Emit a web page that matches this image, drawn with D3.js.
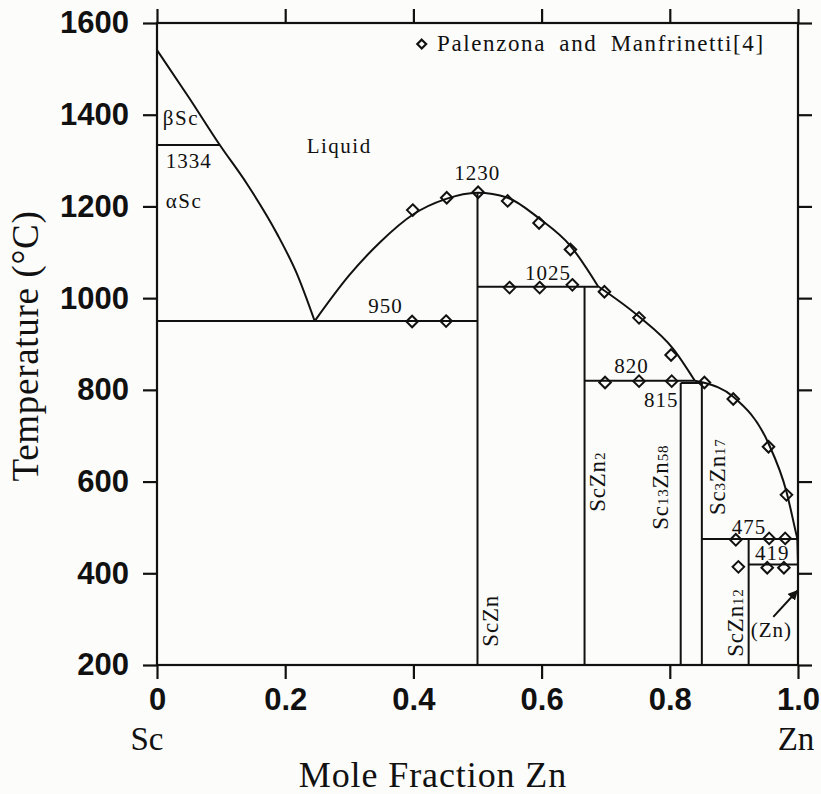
<!DOCTYPE html>
<html>
<head>
<meta charset="utf-8">
<script src="https://cdn.jsdelivr.net/npm/d3@7"></script>
<style>
body{margin:0;background:#fcfcfa;}
svg{display:block;}
.tick text{font-family:"Liberation Sans",Arial,sans-serif;font-weight:bold;font-size:31px;fill:#111;}
.lbl{font-family:"Liberation Serif","Times New Roman",serif;fill:#111;}
</style>
</head>
<body>
<svg width="821" height="794"></svg>
<script>
//Sc-Zn 相图
//坐标刻度
var xTicks=[0,0.2,0.4,0.6,0.8,1.0];
var xTickText=["0","0.2","0.4","0.6","0.8","1.0"];
var yTicks=[200,400,600,800,1000,1200,1400,1600];
//液相线 (x, T)
var liqSc=[[0,1541],[0.05,1437],[0.098,1334],[0.140,1250],[0.187,1141],[0.218,1054],[0.246,950]];
var liqScZn=[[0.246,950],[0.30,1050],[0.348,1122],[0.40,1183],[0.45,1216],[0.5,1230],[0.547,1219],[0.596,1174],[0.645,1114],[0.688,1026]];
var liqScZn2=[[0.688,1026],[0.75,962],[0.805,890],[0.839,820]];
var liqSc3Zn17=[[0.839,820],[0.852,816],[0.899,785],[0.954,683],[0.982,578],[0.997,487],[0.999,475]];
var liqZn=[[0.999,475],[1.0,419]];
//水平线 [x0, x1, T]
var isotherms=[[0,0.098,1334],[0,0.5,950],[0.5,0.688,1025],[0.667,0.839,820],[0.817,0.852,815],[0.85,0.999,475],[0.923,1.0,419]];
//化合物
var compounds=["ScZn","ScZn2","Sc13Zn58","Sc3Zn17","ScZn12"];
var compoundX=[0.5,0.667,0.817,0.85,0.923];
var compoundTop=[1230,1025,815,815,475];
//实验点 Palenzona and Manfrinetti
var expX=[0.399,0.452,0.501,0.547,0.596,0.645,0.698,0.752,0.802,0.550,0.597,0.648,0.398,0.451,0.699,0.752,0.803,0.854,0.899,0.954,0.982,0.903,0.955,0.980,0.907,0.952,0.978];
var expT=[1192,1219,1231,1212,1164,1106,1014,957,876,1023,1023,1029,949,950,816,819,819,816,780,676,571,473,476,476,414,412,412];

var svg=d3.select("svg"),
    margin={top:23,right:23,bottom:129,left:157},
    width=+svg.attr("width")-margin.left-margin.right,
    height=+svg.attr("height")-margin.top-margin.bottom;
var x=d3.scaleLinear().domain([0,1]).range([margin.left,margin.left+width]);
var y=d3.scaleLinear().domain([200,1600]).range([margin.top+height,margin.top]);

//坐标轴
svg.append("g")
    .attr("transform","translate(0,"+y(200)+")")
    .call(d3.axisBottom(x).tickValues(xTicks).tickSize(14).tickPadding(9).tickSizeOuter(0)
        .tickFormat(function(d,i){return xTickText[i];}));
svg.append("g")
    .attr("transform","translate("+x(0)+",0)")
    .call(d3.axisLeft(y).tickValues(yTicks).tickSize(14).tickPadding(14).tickSizeOuter(0)
        .tickFormat(d3.format("d")));
svg.append("g")
    .attr("transform","translate(0,"+y(1600)+")")
    .call(d3.axisTop(x).tickValues(xTicks).tickSize(14).tickSizeOuter(0).tickFormat(""));
svg.append("g")
    .attr("transform","translate("+x(1)+",0)")
    .call(d3.axisRight(y).tickValues(yTicks).tickSize(14).tickSizeOuter(0).tickFormat(""));
svg.selectAll(".domain").remove();
svg.selectAll(".tick line").attr("stroke","#111").attr("stroke-width",2.2);
svg.append("rect")
    .attr("x",x(0)).attr("y",y(1600))
    .attr("width",x(1)-x(0)).attr("height",y(200)-y(1600))
    .attr("fill","none").attr("stroke","#111").attr("stroke-width",2.2);

//相界线
var line=d3.line()
    .x(function(d){return x(d[0]);})
    .y(function(d){return y(d[1]);})
    .curve(d3.curveMonotoneX);
var g=svg.append("g").attr("fill","none").attr("stroke","#111").attr("stroke-width",2);
[liqSc,liqScZn,liqScZn2,liqSc3Zn17].forEach(function(seg){
    g.append("path").datum(seg).attr("d",line);
});
g.append("path").datum(liqZn).attr("d",d3.line().x(function(d){return x(d[0]);}).y(function(d){return y(d[1]);}));
g.selectAll(".iso")
    .data(isotherms)
    .enter().append("line")
    .attr("x1",function(d){return x(d[0]);})
    .attr("x2",function(d){return x(d[1]);})
    .attr("y1",function(d){return y(d[2]);})
    .attr("y2",function(d){return y(d[2]);});
g.selectAll(".cmp")
    .data(compoundX)
    .enter().append("line")
    .attr("x1",function(d){return x(d);})
    .attr("x2",function(d){return x(d);})
    .attr("y1",y(200))
    .attr("y2",function(d,i){return y(compoundTop[i]);});

//实验点
var diamond=d3.symbol().type(d3.symbolDiamond2).size(85);
svg.append("g").selectAll("path")
    .data(expX)
    .enter().append("path")
    .attr("transform",function(d,i){return "translate("+x(d)+","+y(expT[i])+")";})
    .attr("d",diamond)
    .attr("fill","none").attr("stroke","#111").attr("stroke-width",2);

//文字
var txt=function(str,xv,tv,size,anchor,ls){
    return svg.append("text").attr("class","lbl")
        .attr("x",x(xv)).attr("y",y(tv))
        .attr("font-size",size+"px")
        .attr("text-anchor",anchor||"start")
        .attr("letter-spacing",(ls||0)+"px")
        .text(str);
};
txt("βSc",0.009,1378,21,"start",1.5);
txt("1334",0.0136,1283,21,"start",1);
txt("αSc",0.0136,1197,21,"start",1.5);
txt("Liquid",0.2335,1317,21,"start",1.5);
txt("1230",0.4997,1258,21,"middle",1);
txt("1025",0.6098,1040,21,"middle",1);
txt("950",0.3296,967,21,"start",1);
txt("820",0.7134,837,21,"start",1);
txt("815",0.7597,762,21,"start",1);
txt("475",0.8966,485,21,"start",1);
txt("419",0.9329,430,21,"start",1);
txt("(Zn)",0.9262,262,21,"start",1);

//箭头
svg.append("defs").append("marker")
    .attr("id","arr").attr("viewBox","0 0 10 10")
    .attr("refX",9).attr("refY",5)
    .attr("markerWidth",5).attr("markerHeight",5)
    .attr("orient","auto")
    .append("path").attr("d","M0,0L10,5L0,10z").attr("fill","#111");
svg.append("line")
    .attr("x1",x(0.9615)).attr("y1",y(305))
    .attr("x2",x(0.9989)).attr("y2",y(362))
    .attr("stroke","#111").attr("stroke-width",2)
    .attr("marker-end","url(#arr)");

//化合物竖排文字
var vPos=[[0.532,240],[0.699,534],[0.7977,495],[0.8861,527],[0.9147,218]];
compounds.forEach(function(name,i){
    var t=svg.append("text").attr("class","lbl")
        .attr("font-size","23px")
        .attr("letter-spacing","0.8px")
        .attr("transform","translate("+x(vPos[i][0])+","+y(vPos[i][1])+") rotate(-90)");
    var parts=name.match(/[A-Z][a-z]*|\d+/g);
    parts.forEach(function(p){
        if(/\d/.test(p)){
            t.append("tspan").attr("font-size","15px").text(p);
        }else{
            t.append("tspan").text(p);
        }
    });
});

//图例
svg.append("path")
    .attr("transform","translate("+x(0.413)+","+y(1554)+")")
    .attr("d",d3.symbol().type(d3.symbolDiamond2).size(50))
    .attr("fill","none").attr("stroke","#111").attr("stroke-width",2.2);
svg.append("text").attr("class","lbl")
    .attr("x",x(0.437)).attr("y",y(1538))
    .attr("font-size","23px")
    .attr("letter-spacing","1.6px")
    .attr("word-spacing","6px")
    .text("Palenzona and Manfrinetti[4]");

//坐标轴标题
svg.append("text").attr("class","lbl")
    .attr("x",x(0)-10).attr("y",750)
    .attr("font-size","33px").attr("text-anchor","middle")
    .text("Sc");
svg.append("text").attr("class","lbl")
    .attr("x",x(1)-2).attr("y",750)
    .attr("font-size","33px").attr("text-anchor","middle")
    .text("Zn");
svg.append("text").attr("class","lbl")
    .attr("x",433).attr("y",787)
    .attr("font-size","36px").attr("text-anchor","middle")
    .attr("letter-spacing","0.9px")
    .text("Mole Fraction Zn");
svg.append("text").attr("class","lbl")
    .attr("transform","translate(38,346) rotate(-90)")
    .attr("font-size","37px").attr("text-anchor","middle")
    .attr("letter-spacing","0.7px")
    .text("Temperature (°C)");
</script>
</body>
</html>
